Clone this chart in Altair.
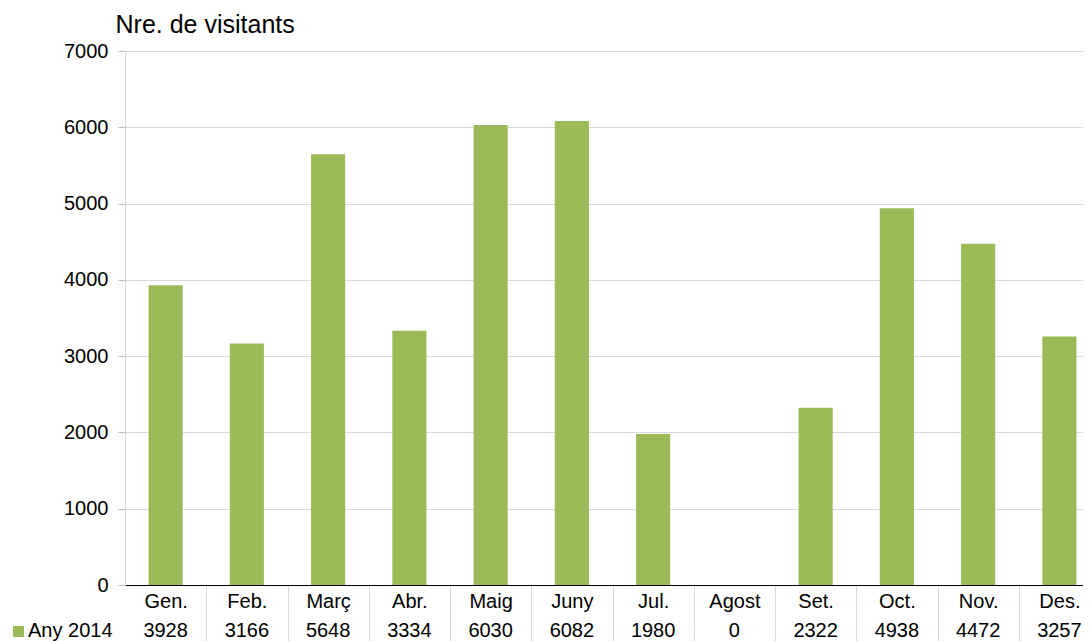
import altair as alt
import pandas as pd

months = ["Gen.", "Feb.", "Març", "Abr.", "Maig", "Juny", "Jul.", "Agost", "Set.", "Oct.", "Nov.", "Des."]
visitors = [3928, 3166, 5648, 3334, 6030, 6082, 1980, 0, 2322, 4938, 4472, 3257]
series_name = "Any 2014"

df = pd.DataFrame({"month": months, "value": visitors})

FONT = "Liberation Sans"
GREEN = "#9BBB59"
PLOT_H = 534
RANGE_W = 975
STEP = RANGE_W / len(months)

xscale = alt.Scale(range=[0, RANGE_W], paddingInner=0.58, paddingOuter=0.29)

base = alt.Chart(df)

bars = base.mark_bar(color=GREEN).encode(
    x=alt.X("month:N", sort=months, scale=xscale,
            axis=alt.Axis(title=None, labelAngle=0, labelFontSize=20, labelFont=FONT,
                          labelColor="#000000", labelPadding=-40, labelBaseline="middle",
                          tickOffset=STEP / 2, labelOffset=-STEP / 2,
                          tickSize=56, tickColor="#d9d9d9", domainColor="#000000",
                          domainWidth=1, grid=False, labelBound=False, labelOverlap=False)),
    y=alt.Y("value:Q", scale=alt.Scale(domain=[0, 7000], nice=False),
            axis=alt.Axis(values=[0, 1000, 2000, 3000, 4000, 5000, 6000, 7000], format="d",
                          title="Nre. de visitants", titleAngle=0, titleAlign="left",
                          titleBaseline="alphabetic", titleX=-10, titleY=-19,
                          titleFontSize=25, titleFontWeight="normal", titleFont=FONT,
                          titleColor="#000000",
                          labelFontSize=20, labelFont=FONT, labelColor="#000000",
                          labelPadding=10, tickSize=7, tickColor="#bfbfbf",
                          domainColor="#d9d9d9", gridColor="#d9d9d9")),
)

values_row = base.mark_text(fontSize=20, font=FONT, color="#000000", baseline="middle").encode(
    x=alt.X("month:N", sort=months, scale=xscale),
    y=alt.value(PLOT_H + 46),
    text=alt.Text("value:Q", format="d"),
)

leg = alt.Chart(pd.DataFrame({"label": [series_name]}))
leg_box = leg.mark_rect(color=GREEN).encode(
    x=alt.value(-112), x2=alt.value(-101), y=alt.value(PLOT_H + 41), y2=alt.value(PLOT_H + 52)
)
leg_text = leg.mark_text(fontSize=20, font=FONT, color="#000000", align="left", baseline="middle").encode(
    x=alt.value(-97), y=alt.value(PLOT_H + 46), text="label:N"
)

chart = alt.layer(bars, values_row, leg_box, leg_text).properties(
    width=958, height=PLOT_H,
    padding={"left": 117, "top": 43, "right": 0, "bottom": 56},
    autosize=alt.AutoSizeParams(type="none"),
).configure_view(stroke=None)

chart.save("out.html", embed_options={"renderer": "svg", "actions": False})
